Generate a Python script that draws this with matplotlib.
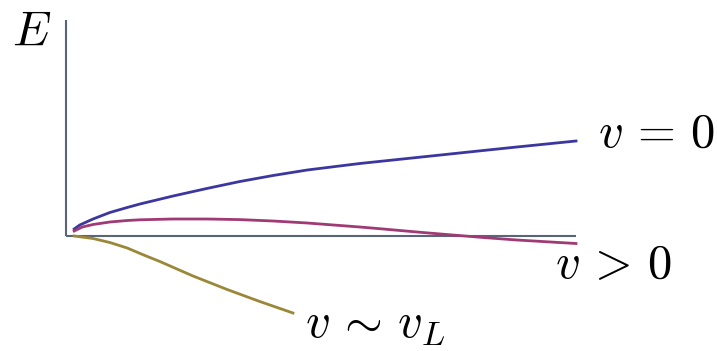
import numpy as np
import matplotlib.pyplot as plt

plt.rcParams['mathtext.fontset'] = 'cm'

# energy curves sampled along the horizontal axis (0 .. 1)
x_blue = [0.016, 0.027, 0.053, 0.086, 0.120, 0.145, 0.210, 0.276, 0.341,
          0.406, 0.473, 0.576, 0.688, 0.753, 0.818, 0.884, 1.0]
e_blue = [0.07, 0.11, 0.17, 0.235, 0.285, 0.32, 0.40, 0.475, 0.545,
          0.605, 0.66, 0.725, 0.785, 0.82, 0.855, 0.89, 0.95]

x_mag = [0.016, 0.032, 0.053, 0.086, 0.120, 0.145, 0.210, 0.276, 0.341,
         0.406, 0.473, 0.576, 0.622, 0.688, 0.753, 0.818, 0.884, 1.0]
e_mag = [0.05, 0.09, 0.115, 0.14, 0.155, 0.162, 0.17, 0.17, 0.164,
         0.15, 0.13, 0.09, 0.07, 0.04, 0.012, -0.015, -0.04, -0.075]

x_olv = [0.016, 0.053, 0.086, 0.120, 0.150, 0.184, 0.249, 0.316, 0.380, 0.445]
e_olv = [0.0, -0.025, -0.065, -0.12, -0.185, -0.255, -0.40, -0.535, -0.655, -0.77]

c_blue = '#3c37a0'
c_mag = '#a03a74'
c_olv = '#9a8838'
c_axis = '#5a6478'

fig = plt.figure(figsize=(7.17, 3.51), dpi=100)
ax = fig.add_axes([0, 0, 1, 1])
ax.set_xlim(-66 / 510, 651 / 510)
ax.set_ylim(-1.15, 2.36)
ax.axis('off')

# axes
ax.plot([0, 1], [0, 0], color=c_axis, lw=1.5, solid_capstyle='butt')
ax.plot([0, 0], [0, 2.16], color=c_axis, lw=1.5, solid_capstyle='butt')

ax.plot(x_blue, e_blue, color=c_blue, lw=2.0)
ax.plot(x_mag, e_mag, color=c_mag, lw=2.0)
ax.plot(x_olv, e_olv, color=c_olv, lw=2.0)

fs = 35
ax.text(-0.106, 1.91, r'$E$', fontsize=fs, ha='left', va='baseline')
ax.text(1.043, 0.89, r'$v\,=\,0$', fontsize=fs, ha='left', va='baseline')
ax.text(0.959, -0.42, r'$v\,>\,0$', fontsize=fs, ha='left', va='baseline')
ax.text(0.469, -1.01, r'$v\,\sim\,v_L$', fontsize=fs, ha='left', va='baseline')

fig.savefig('out.png', dpi=100)
